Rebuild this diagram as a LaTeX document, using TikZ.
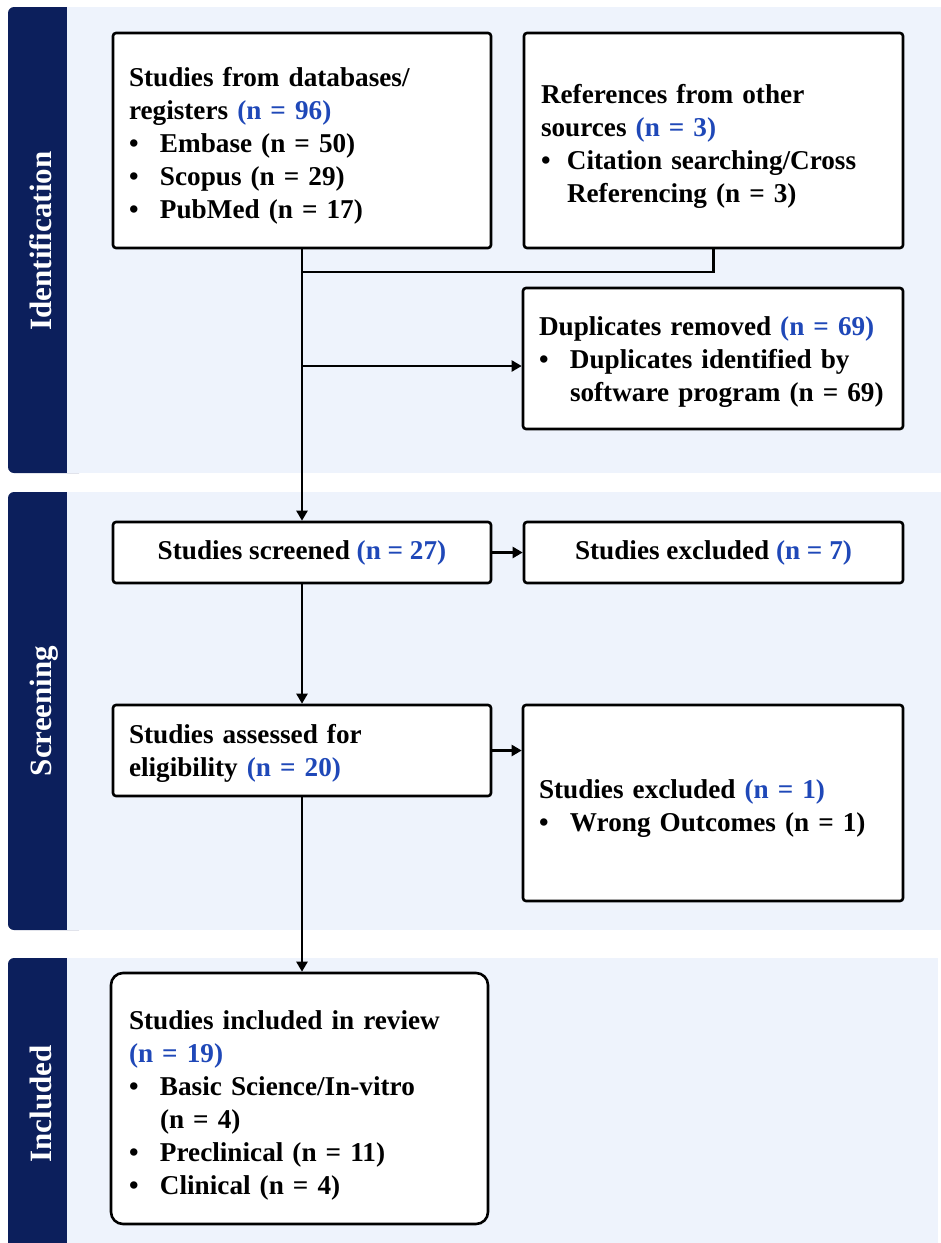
\documentclass[tikz,border=0pt]{standalone}
\usepackage{fontspec}
\setmainfont{Liberation Serif}
\usetikzlibrary{arrows.meta}
\definecolor{navy}{HTML}{0C1F5C}
\definecolor{panelbg}{HTML}{EEF3FC}
\definecolor{nblue}{HTML}{1F48B8}
\newcommand\nb[1]{\textcolor{nblue}{#1}}
\newcommand\itm[2][31pt]{\par\noindent\hangindent=#1\hangafter=1\makebox[#1][l]{\textbullet}#2\par}
\newcommand\lift[1]{\rule{0pt}{#1}}
\begin{document}
\begin{tikzpicture}[x=1pt,y=-1pt,
  box/.style={draw=black, line width=2.6pt, fill=white, rounded corners=3pt, inner sep=0pt,
    font=\fontsize{27.2}{33}\selectfont\bfseries\setlength{\parindent}{0pt}, align=left},
  lbl/.style={text=white, font=\fontsize{31}{36}\selectfont\bfseries, rotate=90, anchor=base, inner sep=0pt},
  conn/.style={line width=2.2pt},
  arr/.style={conn, -{Triangle[length=10pt,width=11pt]}}]
\useasboundingbox (0,0) rectangle (941,1243);
% panels
\fill[navy, rounded corners=6pt] (8,7) rectangle (85,473);
\fill[panelbg] (67,7) rectangle (941,473);
\fill[navy, rounded corners=6pt] (8,492) rectangle (85,930);
\fill[panelbg] (67,492) rectangle (941,930);
\fill[navy, rounded corners=6pt] (8,958) rectangle (85,1260);
\fill[panelbg] (67,958) rectangle (938,1243);
\node[lbl] (lid) at (51,241) {Identification};
\node[lbl] (lsc) at (51,711) {Screening};
\node[lbl] (lin) at (51,1104) {Included};
% boxes
\node[box, minimum width=378pt, minimum height=215pt, text width=346pt] (b1) at (302,140.5)
  {\lift{29pt}Studies from databases/\newline registers \nb{(n = 96)}\itm{Embase (n = 50)}\itm{Scopus (n = 29)}\itm{PubMed (n = 17)}};
\node[box, minimum width=379pt, minimum height=215pt, text width=345pt] (b2) at (713.5,140.5)
  {\lift{31pt}References from other\newline sources \nb{(n = 3)}\itm[26pt]{Citation searching/Cross\newline Referencing (n = 3)}};
\node[box, minimum width=380pt, minimum height=141pt, text width=348pt] (b3) at (713,358.5)
  {\lift{25pt}Duplicates removed \nb{(n = 69)}\itm{Duplicates identified by\newline \mbox{software program (n = 69)}}};
\node[box, minimum width=378pt, minimum height=61pt, align=center] (b4) at (302,552.5)
  {Studies screened \nb{(n = 27)}};
\node[box, minimum width=379pt, minimum height=61pt, align=center] (b5) at (713.5,552.5)
  {Studies excluded \nb{(n = 7)}};
\node[box, minimum width=378pt, minimum height=91pt, text width=346pt] (b6) at (302,750.5)
  {\lift{25pt}Studies assessed for\newline eligibility \nb{(n = 20)}};
\node[box, minimum width=380pt, minimum height=196pt, text width=348pt] (b7) at (713,803)
  {\lift{29pt}Studies excluded \nb{(n = 1)}\itm{Wrong Outcomes (n = 1)}};
\node[box, rounded corners=12pt, minimum width=377pt, minimum height=251pt, text width=341pt] (b8) at (299.5,1098.5)
  {\lift{33pt}Studies included in review\newline\nb{(n = 19)}\itm{Basic Science/In-vitro\newline (n = 4)}\itm{Preclinical (n = 11)}\itm{Clinical (n = 4)}};
% connectors
\coordinate (j1) at (302,272);
\coordinate (j2) at (302,366);
\draw[conn] (b2.south) |- (j1);
\draw[arr] (b1.south) -- (b4.north);
\draw[arr] (j2) -- (j2 -| b3.west);
\draw[arr] (b4.east) -- (b5.west);
\draw[arr] (b6.east) -- (b6.east -| b7.west);
\draw[arr] (b4.south) -- (b6.north);
\draw[arr] (b6.south) -- (b6.south |- b8.north);
\end{tikzpicture}
\end{document}
